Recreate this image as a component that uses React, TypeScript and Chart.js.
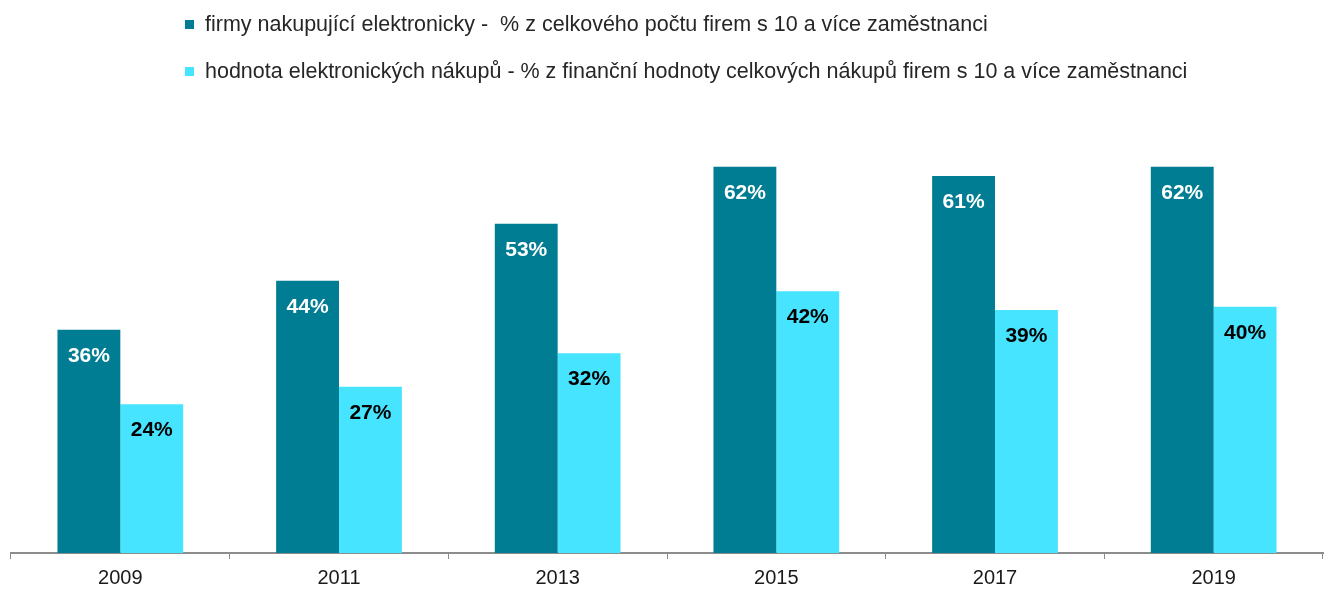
import React, { useEffect, useRef } from "react";
import { Chart, registerables } from "chart.js";

Chart.register(...registerables);

const categories = ["2009", "2011", "2013", "2015", "2017", "2019"];
const seriesFirms = [36, 43.9, 53.1, 62.3, 60.8, 62.3];
const seriesValue = [24, 26.8, 32.2, 42.2, 39.2, 39.7];
const legendLabels = [
  "firmy nakupující elektronicky -  % z celkového počtu firem s 10 a více zaměstnanci",
  "hodnota elektronických nákupů - % z finanční hodnoty celkových nákupů firem s 10 a více zaměstnanci",
];
const colors = ["#007D92", "#47E4FF"];
const labelColors = ["#ffffff", "#000000"];

const labelPlugin = {
  id: "barLabels",
  afterDatasetsDraw(chart: any) {
    const ctx = chart.ctx;
    chart.data.datasets.forEach((ds: any, di: number) => {
      const meta = chart.getDatasetMeta(di);
      meta.data.forEach((bar: any, i: number) => {
        const v = ds.data[i];
        ctx.save();
        ctx.font = "bold 21px 'Liberation Sans', Arial, sans-serif";
        ctx.fillStyle = labelColors[di];
        ctx.textAlign = "center";
        ctx.textBaseline = "middle";
        ctx.fillText(Math.round(v) + "%", bar.x, bar.y + 26);
        ctx.restore();
      });
    });
  },
};

export default function App() {
  const ref = useRef<HTMLCanvasElement>(null);
  useEffect(() => {
    document.body.style.margin = "0";
    const chart = new Chart(ref.current!, {
      type: "bar",
      data: {
        labels: categories,
        datasets: [
          { label: legendLabels[0], data: seriesFirms, backgroundColor: colors[0], barPercentage: 1, categoryPercentage: 0.575 },
          { label: legendLabels[1], data: seriesValue, backgroundColor: colors[1], barPercentage: 1, categoryPercentage: 0.575 },
        ],
      },
      options: {
        animation: false,
        responsive: false,
        maintainAspectRatio: false,
        layout: { padding: { left: 11, right: 1, top: 119, bottom: 0 } },
        plugins: { legend: { display: false }, tooltip: { enabled: false } },
        scales: {
          x: {
            grid: { offset: true, drawOnChartArea: false, drawTicks: true, tickLength: 6, color: "#8c8c8c", lineWidth: 1 },
            border: { display: true, color: "#8c8c8c", width: 2 },
            ticks: { color: "#1a1a1a", font: { size: 20, family: "'Liberation Sans', Arial, sans-serif" }, padding: 7 },
          },
          y: { display: false, min: 0, max: 70 },
        },
      },
      plugins: [labelPlugin],
    });
    return () => chart.destroy();
  }, []);

  return (
    <div style={{ position: "relative", width: 1324, height: 589, overflow: "hidden", fontFamily: "'Liberation Sans', Arial, sans-serif" }}>
      <canvas ref={ref} width={1324} height={597} style={{ position: "absolute", left: 0, top: 0 }} />
      {legendLabels.map((t, i) => (
        <div key={i} style={{ position: "absolute", left: 185, top: i === 0 ? 11 : 58, height: 26, display: "flex", alignItems: "center", fontSize: 21.5, color: "#262626", whiteSpace: "pre" }}>
          <span style={{ display: "inline-block", width: 9, height: 9, background: colors[i], marginRight: 11 }} />
          <span>{t}</span>
        </div>
      ))}
    </div>
  );
}
